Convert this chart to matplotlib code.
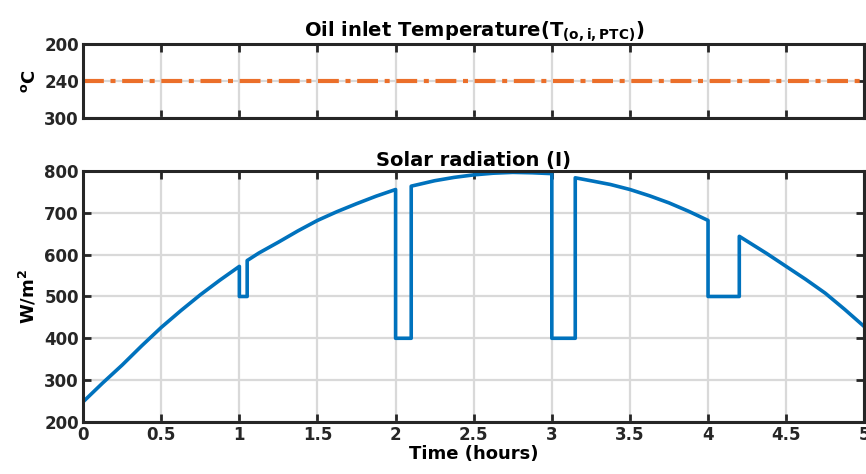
import matplotlib
matplotlib.use("Agg")
import matplotlib.pyplot as plt
import numpy as np

# ---- data ----
oil_time = [0.0, 5.0]
oil_temp = [240, 240]
oil_yticks = [200, 240, 280]
oil_yticklabels = ["200", "240", "300"]

rad_time = [0.0, 0.125, 0.25, 0.375, 0.5, 0.625, 0.75, 0.875, 1.0,
            1.0, 1.05, 1.05, 1.125, 1.25, 1.375, 1.5, 1.625, 1.75, 1.875, 2.0,
            2.0, 2.1, 2.1, 2.25, 2.375, 2.5, 2.625, 2.75, 2.875, 3.0,
            3.0, 3.15, 3.15, 3.25, 3.375, 3.5, 3.625, 3.75, 3.875, 4.0,
            4.0, 4.2, 4.2, 4.375, 4.5, 4.625, 4.75, 4.875, 5.0]
rad_vals = [248, 293, 336, 382, 426, 466, 504, 539, 572,
            500, 500, 586, 604, 630, 657, 682, 703, 722, 740, 756,
            400, 400, 764, 777, 785, 791, 795, 797, 796, 794,
            400, 400, 784, 777, 768, 756, 741, 724, 704, 682,
            500, 500, 644, 603, 572, 541, 508, 469, 428]
x_ticks = [0, 0.5, 1, 1.5, 2, 2.5, 3, 3.5, 4, 4.5, 5]
x_ticklabels = ["0", "0.5", "1", "1.5", "2", "2.5", "3", "3.5", "4", "4.5", "5"]
rad_yticks = [200, 300, 400, 500, 600, 700, 800]

plt.rcParams['font.family'] = ['DejaVu Sans']
plt.rcParams['font.weight'] = 'bold'
plt.rcParams['mathtext.default'] = 'bf'

fig = plt.figure(figsize=(8.66, 4.74), dpi=100)
ax1 = fig.add_axes([0.096, 0.751, 0.902, 0.156])
ax2 = fig.add_axes([0.096, 0.110, 0.902, 0.529])

def style(ax):
    for s in ax.spines.values():
        s.set_linewidth(2.2)
        s.set_color('#262626')
    ax.tick_params(direction='in', length=5.5, width=2, top=True, right=True,
                   labelsize=12, colors='#262626', pad=3)
    ax.grid(True, color='#d9d9d9', linewidth=1.6)
    ax.set_axisbelow(True)
    ax.set_xlim(0, 5)
    ax.set_xticks(x_ticks)

style(ax1)
ax1.plot(oil_time, oil_temp, color='#EB6F2A', linestyle='-.', linewidth=3,
         dashes=(5, 1.6, 1.2, 1.6))
ax1.set_ylim(280, 200)
ax1.set_yticks(oil_yticks)
ax1.set_yticklabels(oil_yticklabels)
ax1.set_xticklabels([])
ax1.set_ylabel(r'$^{o}$C', fontsize=13, fontweight='bold', labelpad=4)
ax1.set_title(r'Oil inlet Temperature(T$_{(o,i,PTC)}$)', fontsize=14,
              fontweight='bold', pad=5)

style(ax2)
ax2.plot(rad_time, rad_vals, color='#0072BD', linewidth=2.6)
ax2.set_ylim(200, 800)
ax2.set_yticks(rad_yticks)
ax2.set_xticklabels(x_ticklabels)
ax2.set_ylabel(r'W/m$^{2}$', fontsize=13, fontweight='bold', labelpad=4)
ax2.set_xlabel('Time (hours)', fontsize=13, fontweight='bold', labelpad=1)
ax2.set_title('Solar radiation (I)', fontsize=14, fontweight='bold', pad=4)

fig.savefig('out.png', dpi=100)
